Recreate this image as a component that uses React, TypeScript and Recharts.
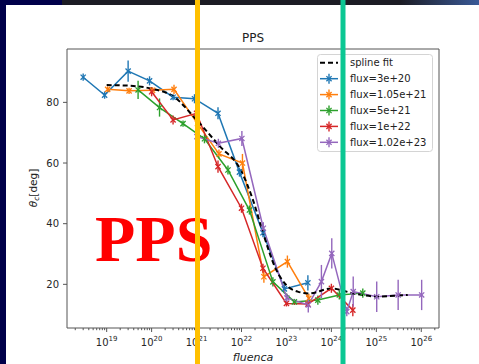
import { LineChart, Line, XAxis, YAxis, ErrorBar, ReferenceArea } from "recharts";

const xMin = 1.31e18;
const xMax = 2.48e26;
const yMin = 5.6;
const yMax = 97.6;

const decadeTicks = [1e19, 1e20, 1e21, 1e22, 1e23, 1e24, 1e25, 1e26];
const decadeLabels = ["19", "20", "21", "22", "23", "24", "25", "26"];
const yTicks = [20, 40, 60, 80];

const fluxLabels = ["flux=3e+20", "flux=1.05e+21", "flux=5e+21", "flux=1e+22", "flux=1.02e+23"];
const fluxColors = ["#1f77b4", "#ff7f0e", "#2ca02c", "#d62728", "#9467bd"];

const blueX = [3e18, 9e18, 3e19, 9e19, 3e20, 9e20, 3e21, 9e21, 3e22, 9e22, 3e23];
const blueY = [88.3, 82.4, 90.3, 87.1, 81.7, 81.2, 76.4, 57, 37, 18.5, 20.5];
const blueErr = [1.2, 1.2, 3.5, 1.5, 1, 1.5, 2, 1.5, 1.5, 1.5, 2.5];

const orangeX = [1.05e19, 3.15e19, 1.05e20, 3.15e20, 1.05e21, 3.15e21, 1.05e22, 3.15e22, 1.05e23, 3.15e23];
const orangeY = [84.3, 83.8, 84, 84.3, 73, 63, 60, 22.5, 27.5, 15.4];
const orangeErr = [1, 1, 1, 1.5, 1.5, 1.5, 3, 2, 2, 1.5];

const greenX = [5e19, 1.5e20, 5e20, 1.5e21, 5e21, 1.5e22, 5e22, 1.5e23, 5e23, 1.5e24, 5e24];
const greenY = [84.1, 78.3, 73, 68, 57.7, 44.5, 20.8, 14.2, 14.8, 16.5, 17.1];
const greenErr = [3, 3, 1, 1.5, 1.5, 1.5, 1.5, 1, 1.5, 1.5, 1.5];

const redX = [1e20, 3e20, 1e21, 3e21, 1e22, 3e22, 1e23, 3e23, 1e24, 3e24];
const redY = [83.5, 74.2, 76.4, 58.8, 45.1, 25.3, 13.7, 13.5, 18.7, 11.5];
const redErr = [1.5, 1.5, 1.5, 2, 1.5, 1.5, 1, 1, 1.5, 2];

const purpleX = [1.02e21, 3.06e21, 1.02e22, 3.06e22, 1.02e23, 3.06e23, 6e23, 1.02e24, 2.2e24, 3.06e24, 1.02e25, 3.06e25, 1.02e26];
const purpleY = [68.7, 66.5, 68.1, 38.5, 15.5, 13.2, 20.9, 30.2, 11, 17.6, 15.9, 16.5, 16.5];
const purpleErr = [1, 1.5, 2.5, 2, 1.5, 2.5, 5.5, 5, 1.5, 5, 5, 5, 5];

const splineX = [1e19, 3.16e19, 1e20, 3.16e20, 1e21, 3.16e21, 1e22, 1.78e22, 3.16e22, 5.62e22, 1e23, 1.78e23, 3.16e23, 1e24, 3.16e24, 1e25, 3.16e25, 5e25];
const splineY = [85.7, 85.5, 84.5, 81.8, 74.2, 65.8, 57.2, 48, 36, 25.5, 19.7, 17.6, 17, 18.6, 17, 16, 16.3, 16.5];

const rows = (x: number[], y: number[], err: number[]) => x.map((v, i) => ({ x: v, y: y[i], err: err[i] }));

const series = [
  rows(blueX, blueY, blueErr),
  rows(orangeX, orangeY, orangeErr),
  rows(greenX, greenY, greenErr),
  rows(redX, redY, redErr),
  rows(purpleX, purpleY, purpleErr),
];
const splineData = splineX.map((v, i) => ({ x: v, y: splineY[i] }));

// minor ticks 2..9 inside each decade
const allTicks: number[] = [];
[1e18, ...decadeTicks].forEach((d) => {
  for (let m = 1; m < 10; m++) {
    const v = d * m;
    if (v >= xMin && v <= xMax) allTicks.push(v);
  }
});

const FONT = "DejaVu Sans";

function XTick(props: any) {
  const { x, y, payload } = props;
  const idx = decadeTicks.findIndex((d) => Math.abs(d - payload.value) / d < 1e-6);
  const major = idx >= 0;
  return (
    <g>
      <line x1={x} x2={x} y1={y} y2={y + (major ? 4 : 2.2)} stroke="#555" strokeWidth={1} />
      {major && (
        <text x={x} y={y + 18} textAnchor="middle" fontSize={10} fontFamily={FONT} fill="#262626">
          10<tspan dy={-5} fontSize={7}>{decadeLabels[idx]}</tspan>
        </text>
      )}
    </g>
  );
}

const xDot = (color: string) => (p: any) => {
  const { cx, cy, index } = p;
  if (cx == null || cy == null) return <g key={`e${index}`} />;
  const s = 2.6;
  return (
    <path
      key={`d${index}`}
      d={`M${cx - s},${cy - s}L${cx + s},${cy + s}M${cx - s},${cy + s}L${cx + s},${cy - s}`}
      stroke={color}
      strokeWidth={1.3}
      fill="none"
    />
  );
};

export default function App() {
  return (
    <div style={{ position: "absolute", left: 0, top: 0, width: 479, height: 364, background: "#fff", overflow: "hidden" }}>
      <div
        style={{
          position: "absolute", left: 0, top: 0, width: 479, height: 5,
          background: "linear-gradient(90deg, #00004a 0px, #00004a 62px, #1c1c24 62px, #1c1c24 400px, #3a5a98 479px)",
        }}
      />
      <div style={{ position: "absolute", left: 0, top: 0, width: 6, height: 364, background: "#00004a" }} />
      <div style={{ position: "absolute", left: 0, top: 0 }}>
        <LineChart width={479} height={364} margin={{ top: 49, right: 40, bottom: 0, left: 0 }}>
          <XAxis
            dataKey="x"
            type="number"
            scale="log"
            domain={[xMin, xMax]}
            allowDataOverflow
            ticks={allTicks}
            interval={0}
            height={36}
            tickSize={0}
            tickMargin={0}
            tickLine={false}
            axisLine={false}
            tick={<XTick />}
          />
          <YAxis
            type="number"
            domain={[yMin, yMax]}
            allowDataOverflow
            ticks={yTicks}
            width={67}
            tickSize={4}
            tickMargin={4}
            axisLine={false}
            tickLine={{ stroke: "#555" }}
            tick={{ fontSize: 10, fontFamily: FONT, fill: "#262626" }}
          />
          <ReferenceArea x1={xMin} x2={xMax} y1={yMin} y2={yMax} fill="none" stroke="#555" strokeWidth={1} />
          {series.map((d, i) => (
            <Line
              key={fluxLabels[i]}
              data={d}
              dataKey="y"
              type="linear"
              stroke={fluxColors[i]}
              strokeWidth={1.5}
              dot={xDot(fluxColors[i])}
              activeDot={false}
              isAnimationActive={false}
            >
              <ErrorBar dataKey="err" direction="y" width={0} stroke={fluxColors[i]} strokeWidth={1.4} isAnimationActive={false} />
            </Line>
          ))}
          <Line
            data={splineData}
            dataKey="y"
            type="monotone"
            stroke="#000"
            strokeWidth={2}
            strokeDasharray="5 3"
            dot={false}
            activeDot={false}
            isAnimationActive={false}
          />
        </LineChart>
      </div>
      <svg width={479} height={364} style={{ position: "absolute", left: 0, top: 0 }}>
        <text x={253} y={42} textAnchor="middle" fontSize={12} fontFamily={FONT} fill="#222">PPS</text>
        <text x={253} y={361} textAnchor="middle" fontSize={11} fontFamily={FONT} fontStyle="italic" fill="#222">fluenca</text>
        <text transform="translate(36.5,188) rotate(-90)" textAnchor="middle" fontSize={10.5} fontFamily={FONT} fill="#222">
          <tspan fontStyle="italic">θ</tspan>
          <tspan fontStyle="italic" fontSize={7.5} dy={2}>c</tspan>
          <tspan dy={-2}>[deg]</tspan>
        </text>
        <rect x={317.5} y={54.5} width={115} height={97} rx={3} fill="#fff" stroke="#d4d4d4" />
        <line x1={320} x2={338} y1={62.7} y2={62.7} stroke="#000" strokeWidth={2} strokeDasharray="5 3" />
        <text x={350} y={66.3} fontSize={10} fontFamily={FONT} fill="#222">spline fit</text>
        {fluxLabels.map((lab, i) => {
          const cy = 78.7 + 15.9 * i;
          const c = fluxColors[i];
          return (
            <g key={lab}>
              <line x1={320} x2={338} y1={cy} y2={cy} stroke={c} strokeWidth={1.5} />
              <line x1={329} x2={329} y1={cy - 5} y2={cy + 5} stroke={c} strokeWidth={1.4} />
              <path d={`M326.4,${cy - 2.6}L331.6,${cy + 2.6}M326.4,${cy + 2.6}L331.6,${cy - 2.6}`} stroke={c} strokeWidth={1.3} />
              <text x={350} y={cy + 3.6} fontSize={10} fontFamily={FONT} fill="#222">{lab}</text>
            </g>
          );
        })}
        <text x={95} y={261} fontSize={66} fontFamily="Liberation Serif" fontWeight="bold" fill="#ff0000">PPS</text>
        <rect x={195} y={0} width={5} height={364} fill="#ffc000" />
        <rect x={340.5} y={0} width={5} height={364} fill="#0bc793" />
      </svg>
    </div>
  );
}
